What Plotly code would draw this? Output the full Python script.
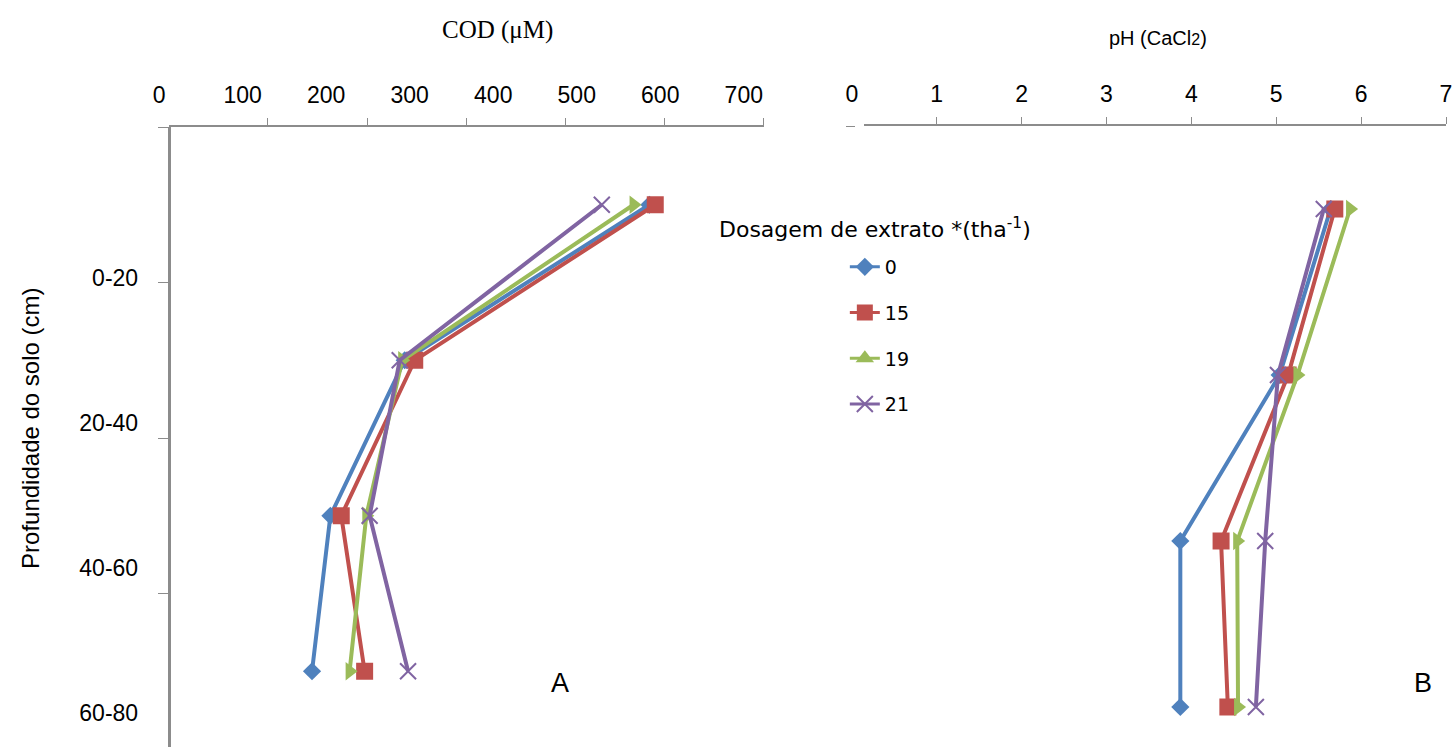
import plotly.graph_objects as go

# ---------------- data ----------------
DEPTHS = ["0-20", "20-40", "40-60", "60-80"]          # soil depth classes (cm)
DOSES = ["0", "15", "19", "21"]                        # extract dose (t/ha)

COD_0 = [587, 294, 205, 183]
COD_15 = [594, 306, 218, 246]
COD_19 = [568, 291, 248, 228]
COD_21 = [530, 288, 252, 298]

PH_0 = [5.64, 5.04, 3.87, 3.87]
PH_15 = [5.69, 5.14, 4.35, 4.43]
PH_19 = [5.87, 5.25, 4.54, 4.55]
PH_21 = [5.56, 5.02, 4.87, 4.76]

COD_TICKS = [0, 100, 200, 300, 400, 500, 600, 700]
COD_MARKS = [100, 200, 300, 400, 500, 600]
PH_TICKS = [0, 1, 2, 3, 4, 5, 6, 7]
PH_MARKS = [1, 2, 3, 4, 5, 6, 7]

# ---------------- styling / geometry ----------------
W, H = 1456, 747
COLORS = ["#4F81BD", "#C0504D", "#9BBB59", "#8064A2"]
SYM_PLOT = ["diamond", "square", "triangle-right", "x-thin"]
SYM_LEG = ["diamond", "square", "triangle-up", "x-thin"]
SIZES = [14, 17, 16, 16]
AXC = "#8C8C8C"
SANS = "Liberation Sans"


def fx(p):
    return p / W


def fy(p):
    return 1 - p / H


# left panel
L_AXIS_X, L_TOP, L_ROW = 169, 127, 155.5
COD_PX0, COD_PPU = 159.4, 0.8363
L_DOM = (140, 780)
L_MARK_DOM = (169, 765)
LBL_PX0, LBL_PPU = 133, 145
# right panel
R_AXIS_X, R_TOP, R_ROW = 856, 126, 166
PH_PX0, PH_PPU = 853, 85.0
R_DOM = (828, 1452)
R_MARK_DOM = (865, 1448)

ypos = [i + 0.5 for i in range(len(DEPTHS))]
cod_series = [COD_0, COD_15, COD_19, COD_21]
ph_series = [PH_0, PH_15, PH_19, PH_21]

fig = go.Figure()


def marker(i, sym):
    m = dict(symbol=sym, size=SIZES[i], color=COLORS[i])
    if sym == "x-thin":
        m["line"] = dict(width=2, color=COLORS[i])
    else:
        m["line"] = dict(width=0)
    return m


for i, dose in enumerate(DOSES):
    fig.add_trace(go.Scatter(x=cod_series[i], y=ypos, xaxis="x", yaxis="y",
                             mode="lines+markers", name=dose, showlegend=False,
                             line=dict(color=COLORS[i], width=4),
                             marker=marker(i, SYM_PLOT[i])))
for i, dose in enumerate(DOSES):
    fig.add_trace(go.Scatter(x=ph_series[i], y=ypos, xaxis="x2", yaxis="y2",
                             mode="lines+markers", name=dose, showlegend=False,
                             line=dict(color=COLORS[i], width=4),
                             marker=marker(i, SYM_PLOT[i])))
# legend entries
for i, dose in enumerate(DOSES):
    fig.add_trace(go.Scatter(x=[None], y=[None], xaxis="x", yaxis="y",
                             mode="lines+markers", name=dose, legendgroup=dose,
                             line=dict(color=COLORS[i], width=3),
                             marker=marker(i, SYM_LEG[i])))
# helper traces to register auxiliary axes
for xa, ya in [("x3", "y"), ("x", "y3"), ("x4", "y2")]:
    fig.add_trace(go.Scatter(x=[None], y=[None], xaxis=xa, yaxis=ya,
                             showlegend=False, hoverinfo="skip"))

tickfont = dict(family=SANS, size=23, color="black")
base = dict(showgrid=False, zeroline=False, fixedrange=True)


def note(text, px, py, size, family=SANS, angle=0):
    return dict(text=text, x=fx(px), y=fy(py), xref="paper", yref="paper",
                xanchor="center", yanchor="middle", showarrow=False, textangle=angle,
                font=dict(family=family, size=size, color="black"))


fig.update_layout(
    width=W, height=H, margin=dict(l=0, r=0, t=0, b=0),
    paper_bgcolor="white", plot_bgcolor="rgba(0,0,0,0)",
    legend=dict(x=fx(846), y=fy(248), xanchor="left", yanchor="top",
                font=dict(family="DejaVu Sans", size=19, color="black"),
                tracegroupgap=18, bgcolor="rgba(0,0,0,0)"),
    # left: labels / data axis
    xaxis=dict(base, domain=[fx(L_DOM[0]), fx(L_DOM[1])],
               range=[(L_DOM[0] - COD_PX0) / COD_PPU, (L_DOM[1] - COD_PX0) / COD_PPU],
               anchor="y", side="top", showline=False, ticks="outside", ticklen=14,
               tickcolor="rgba(0,0,0,0)", tickvals=COD_TICKS, tickfont=tickfont),
    # left: axis line + tick marks
    xaxis3=dict(base, domain=[fx(L_MARK_DOM[0]), fx(L_MARK_DOM[1])], range=[0, COD_MARKS[-1]],
                anchor="y", side="top", showline=True, linecolor=AXC, linewidth=1.5,
                ticks="outside", ticklen=7, tickwidth=1.2, tickcolor=AXC,
                tickvals=COD_MARKS, showticklabels=False),
    yaxis=dict(base, domain=[0, fy(L_TOP)], range=[(H - L_TOP) / L_ROW, 0],
               anchor="free", position=fx(L_AXIS_X), showline=True, linecolor=AXC,
               linewidth=2.5, ticks="outside", ticklen=10, tickwidth=1.2, tickcolor=AXC,
               tickvals=list(range(len(DEPTHS))), showticklabels=False),
    yaxis3=dict(base, overlaying="y", anchor="free", position=fx(L_AXIS_X), side="left",
                range=[(H - LBL_PX0) / LBL_PPU, (L_TOP - LBL_PX0) / LBL_PPU],
                showline=False, ticks="outside", ticklen=26, tickcolor="rgba(0,0,0,0)",
                tickvals=[i + 1 for i in range(len(DEPTHS))], ticktext=DEPTHS,
                tickfont=tickfont),
    # right panel
    xaxis2=dict(base, domain=[fx(R_DOM[0]), fx(R_DOM[1])],
                range=[(R_DOM[0] - PH_PX0) / PH_PPU, (R_DOM[1] - PH_PX0) / PH_PPU],
                anchor="y2", side="top", showline=False, ticks="outside", ticklen=14,
                tickcolor="rgba(0,0,0,0)", tickvals=PH_TICKS, tickfont=tickfont),
    xaxis4=dict(base, domain=[fx(R_MARK_DOM[0]), fx(R_MARK_DOM[1])],
                range=[(R_MARK_DOM[0] - PH_PX0) / PH_PPU, PH_MARKS[-1]],
                anchor="y2", side="top", showline=True, linecolor=AXC, linewidth=1.5,
                ticks="outside", ticklen=7, tickwidth=1.2, tickcolor=AXC,
                tickvals=PH_MARKS, showticklabels=False),
    yaxis2=dict(base, domain=[0, fy(R_TOP)], range=[(H - R_TOP) / R_ROW, 0],
                anchor="free", position=fx(R_AXIS_X), showline=False,
                ticks="outside", ticklen=9, tickwidth=1.2, tickcolor=AXC,
                tickvals=[0], showticklabels=False),
    annotations=[
        note("COD (μM)", 498, 30, 25, family="Liberation Serif"),
        note('pH (CaCl<span style="font-size:16px">2</span>)', 1160, 38, 20),
        note("Dosagem de extrato *(tha<sup>-1</sup>)", 876, 228, 22, family="DejaVu Sans"),
        note("Profundidade do solo (cm)", 30, 428, 24, angle=-90),
        note("A", 561, 683, 27),
        note("B", 1425, 683, 27),
    ],
)

fig.write_html("out.html")
